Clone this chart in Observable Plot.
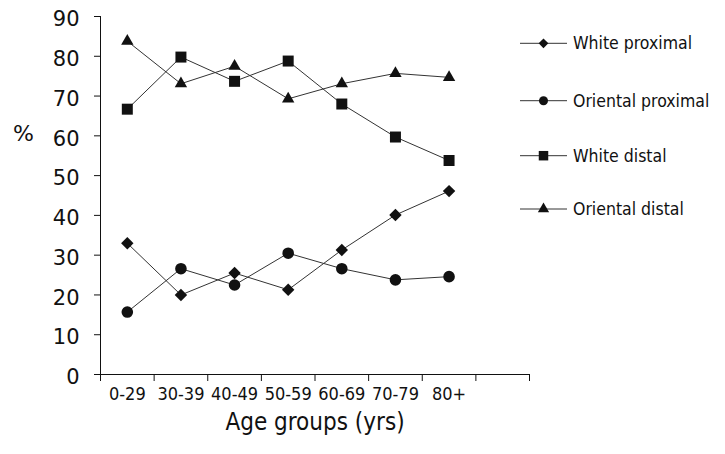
<!DOCTYPE html>
<html><head><meta charset="utf-8">
<script src="https://cdn.jsdelivr.net/npm/d3@7"></script>
<script src="https://cdn.jsdelivr.net/npm/@observablehq/plot@0.6"></script>
<style>
body{margin:0;background:#fff;}
#wrap{position:relative;width:725px;height:454px;}
#legend{position:absolute;left:0;top:0;pointer-events:none;}
</style></head><body><div id="wrap"></div>
<script>
const ageGroups = ["0-29","30-39","40-49","50-59","60-69","70-79","80+"];
const seriesNames = ["White proximal","Oriental proximal","White distal","Oriental distal"];
const whiteProximal = [33,20,25.5,21.3,31.3,40.1,46.1];
const orientalProximal = [15.7,26.6,22.5,30.5,26.6,23.8,24.6];
const whiteDistal = [66.7,79.8,73.7,78.8,68,59.7,53.8];
const orientalDistal = [83.8,73.1,77.5,69.3,73.1,75.7,74.7];
const yTicks = [0,10,20,30,40,50,60,70,80,90];
const symbols = ["diamond2","circle","square","triangle"];
const markerR = [5.6,5.8,6.2,4.6];
const legendSize = [60,64,90,55];

const seriesValues = [whiteProximal, orientalProximal, whiteDistal, orientalDistal];
const rows = [];
seriesValues.forEach((vals, s) => vals.forEach((v, i) => rows.push({series: seriesNames[s], x: i + 0.5, value: v})));
const xEdges = d3.range(ageGroups.length + 2);
const xCenters = ageGroups.map((d, i) => i + 0.5);

const condensed = '"DejaVu Sans Condensed","DejaVu Sans",sans-serif';
const marks = [
  Plot.ruleX([0], {stroke: "#111", strokeWidth: 1}),
  Plot.ruleY([0], {stroke: "#111", strokeWidth: 1}),
  Plot.axisY(yTicks, {tickSize: 6, tickFormat: () => "", label: null, stroke: "#111"}),
  Plot.text(yTicks, {y: d => d, frameAnchor: "left", dx: -21, dy: 3, textAnchor: "end", fontSize: 21, fontFamily: '"DejaVu Sans",sans-serif', fill: "#111"}),
  Plot.axisX(xEdges, {tickSize: 7, tickFormat: () => "", label: null, stroke: "#111"}),
  Plot.axisX(xCenters, {tickSize: 0, tickPadding: 13, tickFormat: d => ageGroups[Math.floor(d)], fontSize: 18, fontFamily: condensed, label: null, fill: "#111"}),
  Plot.line(rows, {x: "x", y: "value", z: "series", stroke: "#333", strokeWidth: 1}),
  ...seriesNames.map((name, s) => Plot.dot(rows.filter(d => d.series === name), {x: "x", y: "value", symbol: () => symbols[s], r: markerR[s], fill: "#111", stroke: "none"})),
  Plot.text(["Age groups (yrs)"], {frameAnchor: "bottom", dy: 55, fontSize: 24, fontFamily: condensed, fill: "#111"}),
  Plot.text(["%"], {frameAnchor: "left", dx: -77, dy: -62, textAnchor: "middle", fontSize: 22, fontFamily: '"DejaVu Sans",sans-serif', fill: "#111"})
];

const chart = Plot.plot({
  width: 725, height: 454,
  marginLeft: 100, marginRight: 196, marginTop: 16, marginBottom: 80,
  x: {type: "linear", domain: [0, ageGroups.length + 1]},
  y: {domain: [0, 90]},
  symbol: {type: "identity"},
  style: {background: "white", color: "#111", fontFamily: condensed, overflow: "visible"},
  marks
});
document.getElementById("wrap").appendChild(chart);

// legend
const lg = d3.select("#wrap").append("svg").attr("id", "legend").attr("width", 725).attr("height", 454);
const symMap = {diamond2: d3.symbolDiamond2, circle: d3.symbolCircle, square: d3.symbolSquare, triangle: d3.symbolTriangle};
const legendY = [43.3, 100.7, 155.7, 209];
seriesNames.forEach((name, s) => {
  const g = lg.append("g").attr("transform", `translate(520,${legendY[s]})`);
  g.append("line").attr("x1", 0).attr("x2", 47).attr("stroke", "#333").attr("stroke-width", 1);
  g.append("path").attr("transform", "translate(23.5,0)").attr("d", d3.symbol(symMap[symbols[s]], legendSize[s])()).attr("fill", "#111");
  g.append("text").attr("x", 53).attr("y", 6).attr("font-family", condensed).attr("font-size", 17.5).attr("fill", "#111").text(name);
});
</script></body></html>
